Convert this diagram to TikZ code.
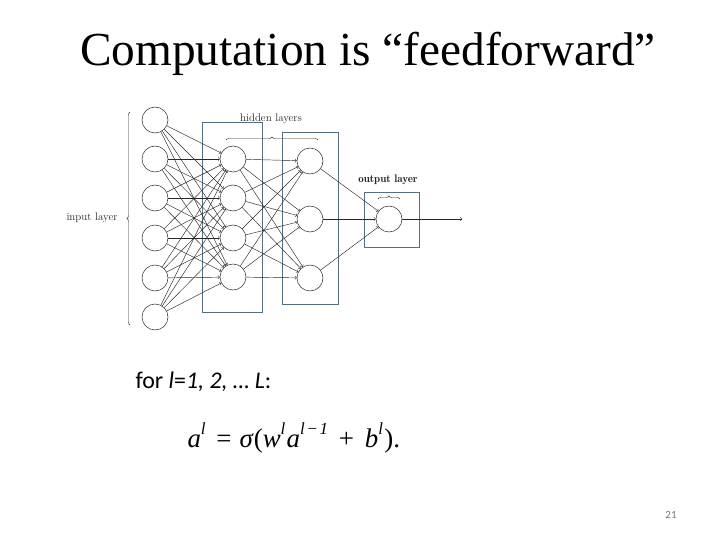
\documentclass[tikz,border=0pt]{standalone}
\usepackage{fontspec}
\setmainfont{Liberation Serif}
\newfontfamily\slidefont{Carlito}
\usetikzlibrary{positioning}
\usetikzlibrary{arrows}
\usetikzlibrary{decorations.pathreplacing}
\definecolor{boxblue}{RGB}{84,112,128}
\definecolor{wire}{RGB}{40,40,40}
\newcommand{\supl}[1]{\raisebox{0.45em}{\fontsize{17}{17}\selectfont\itshape #1}}

\begin{document}
\begin{tikzpicture}[x=1bp, y=-1bp,
    neuron/.style={draw=wire, circle, line width=0.5pt, minimum size=26bp, inner sep=0pt},
    layerbox/.style={draw=boxblue, line width=0.9pt, inner sep=0pt},
    conn/.style={->, draw=wire, line width=0.45pt},
    brc/.style={draw=wire, line width=0.4pt, decorate, decoration={brace, amplitude=3bp}},
    lbl/.style={font=\fontfamily{lmr}\selectfont\fontsize{11}{13}\selectfont, text=black!85}]
        \useasboundingbox (0,0) rectangle (720,540);

        % title %
        \node[font=\fontsize{47.5}{52}\selectfont] (title) at (368,54) {Computation is “feedforward”};

        % layer boxes %
        \node[layerbox, minimum width=60bp, minimum height=190bp] (boxa) at (232,217) {};
        \node[layerbox, minimum width=56bp, minimum height=172bp] (boxb) at (310,218) {};
        \node[layerbox, minimum width=55bp, minimum height=55bp] (boxo) at (391.5,219.5) {};

        % nodes %
        \foreach \n/\y in {1/120, 2/159, 3/198, 4/238, 5/278, 6/317}
            \node[neuron] (in\n) at (155,\y) {};
        \foreach \n/\y in {1/159, 2/198, 3/238, 4/277}
            \node[neuron] (ha\n) at (233,\y) {};
        \foreach \n/\y in {1/161, 2/219, 3/278}
            \node[neuron] (hb\n) at (310,\y) {};
        \node[neuron] (out) at (389,219) {};
        \coordinate (res) at (462,219);

        % labels %
        \node[lbl] (inlbl) at (92,218) {input layer};
        \node[lbl] (hidlbl) at (271,119) {hidden layers};
        \node[lbl, font=\fontfamily{lmr}\selectfont\fontsize{11}{13}\selectfont\bfseries] (outlbl) at (388,180) {output layer};

        % braces %
        \draw[brc] (130,325) -- (130,112);
        \draw[brc] (226,140) -- (318,140);
        \draw[brc] (378,199) -- (400,199);

        % edges %
        \foreach \i in {1,...,6}
            \foreach \j in {1,...,4}
                \draw[conn] (in\i) -- (ha\j);
        \foreach \i in {1,...,4}
            \foreach \j in {1,...,3}
                \draw[conn] (ha\i) -- (hb\j);
        \foreach \i in {1,...,3}
            \draw[conn] (hb\i) -- (out);
        \draw[conn] (out) -- (res);

        % text below %
        \node[anchor=base west, font=\slidefont\fontsize{24}{28}\selectfont] (loop) at (132,388) {for \textit{l}=\textit{1, 2, … L}:};
        \node[anchor=base west, font=\fontsize{27}{30}\selectfont] (eq) at (184,447) {\textit{a}\supl{l}\hspace{0.4em}=\hspace{0.3em}\textit{σ}(\textit{w}\supl{l}\hspace{0.05em}\textit{a}\supl{l\hspace{0.1em}−\hspace{0.1em}1}\hspace{0.4em}+\hspace{0.4em}\textit{b}\supl{l}\hspace{0.05em}).};
        \node[font=\slidefont\fontsize{11}{13}\selectfont, text=black!55] (page) at (671,515) {21};
\end{tikzpicture}
\end{document}
